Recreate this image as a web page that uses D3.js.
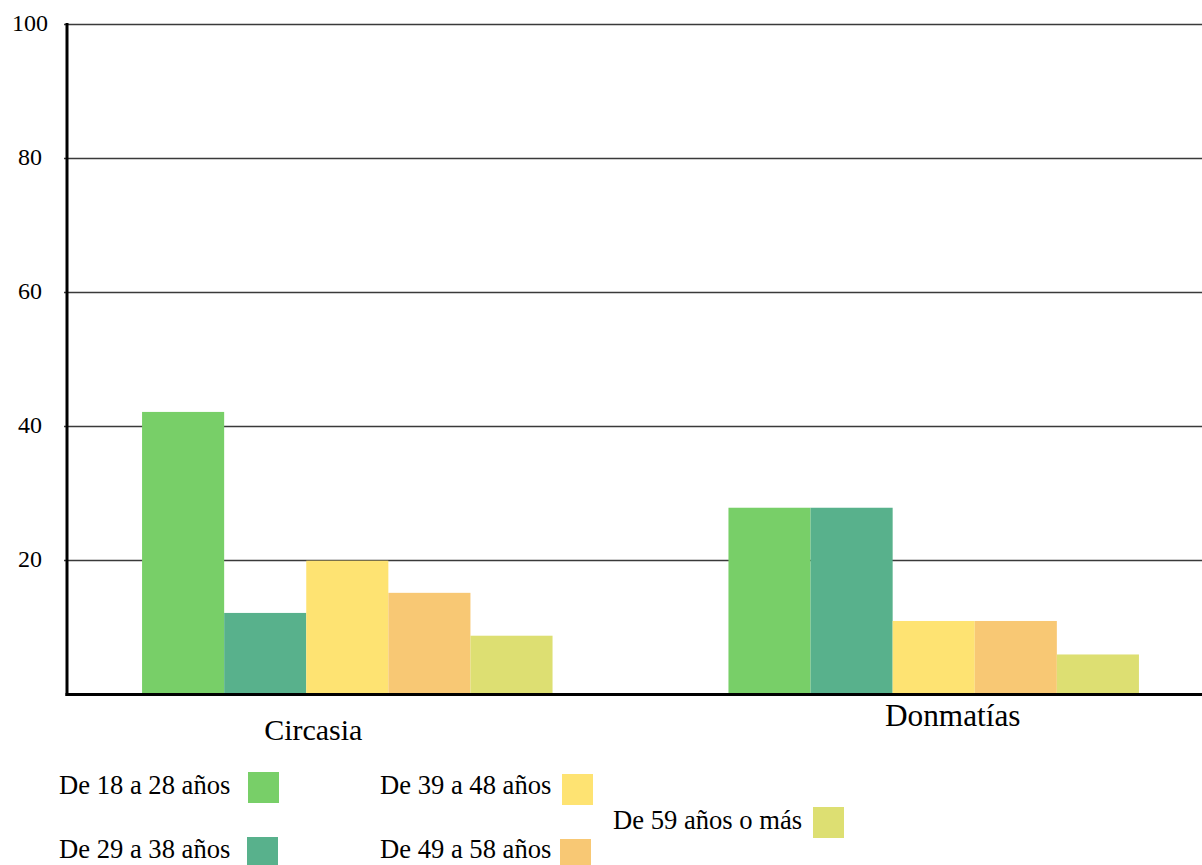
<!DOCTYPE html>
<html>
<head>
<meta charset="utf-8">
<script src="https://cdn.jsdelivr.net/npm/d3@7"></script>
<style>
  html, body { margin: 0; padding: 0; background: #fff; }
  svg { display: block; }
  text { font-family: "Liberation Serif", "DejaVu Serif", serif; fill: #000; }
</style>
</head>
<body>
<svg id="chart" width="1202" height="865"></svg>
<script>
// Municipalities and age groups
const municipios = ["Circasia", "Donmatías"];
const grupos = ["De 18 a 28 años", "De 29 a 38 años", "De 39 a 48 años", "De 49 a 58 años", "De 59 años o más"];
const colores = ["#78cf68", "#58b18c", "#fee372", "#f8c874", "#dddf72"];

// Percentage per age group, one array per municipality
const valoresCircasia = [42.1, 12.1, 19.9, 15.1, 8.7];
const valoresDonmatias = [27.8, 27.8, 10.9, 10.9, 5.9];
const valores = [valoresCircasia, valoresDonmatias];

const yTicks = [20, 40, 60, 80, 100];

const svg = d3.select("#chart");
const W = 1202, H = 865;
const plotLeft = 67, plotTop = 24, plotBottom = 694;

const y = d3.scaleLinear().domain([0, 100]).range([plotBottom, plotTop]);
const x0 = d3.scaleBand().domain(municipios).range([plotLeft, 1214])
  .paddingInner(0.3).paddingOuter(0.128);
const x1 = d3.scaleBand().domain(grupos).range([0, x0.bandwidth()]).padding(0);
const color = d3.scaleOrdinal().domain(grupos).range(colores);

// Horizontal gridlines with short ticks left of the axis
const yAxis = d3.axisLeft(y).tickValues(yTicks)
  .tickSizeOuter(0).tickFormat(d3.format("d"));
const gy = svg.append("g").attr("transform", `translate(${plotLeft},0)`).call(yAxis);
gy.attr("font-family", null).attr("font-size", null);
gy.select(".domain").remove();
gy.selectAll(".tick line")
  .attr("x1", -3).attr("x2", W - plotLeft)
  .attr("stroke", "#3a3a3a").attr("stroke-width", 1.3);
gy.selectAll(".tick text")
  .attr("x", 30 - plotLeft).attr("dy", null).attr("y", 6)
  .attr("text-anchor", "middle")
  .style("font-size", "24px");

// Bars
const groups = svg.append("g").selectAll("g")
  .data(municipios.map((m, i) => ({ m, vals: valores[i] })))
  .join("g")
  .attr("transform", d => `translate(${x0(d.m)},0)`);

groups.selectAll("rect")
  .data(d => d.vals.map((v, j) => ({ g: grupos[j], v })))
  .join("rect")
  .attr("x", d => x1(d.g))
  .attr("y", d => y(d.v))
  .attr("width", x1.bandwidth())
  .attr("height", d => y(0) - y(d.v))
  .attr("fill", d => color(d.g));

// Axis lines
svg.append("line")
  .attr("x1", plotLeft).attr("x2", plotLeft).attr("y1", plotTop - 1).attr("y2", plotBottom + 2)
  .attr("stroke", "#000").attr("stroke-width", 3);
svg.append("line")
  .attr("x1", plotLeft - 1.5).attr("x2", W).attr("y1", plotBottom + 0.5).attr("y2", plotBottom + 0.5)
  .attr("stroke", "#000").attr("stroke-width", 3);

// Category labels
const catPos = [{ dx: -34, y: 740, size: 30 }, { dx: 19, y: 726, size: 31.3 }];
svg.append("g").selectAll("text")
  .data(municipios)
  .join("text")
  .attr("x", (d, i) => x0(d) + x0.bandwidth() / 2 + catPos[i].dx)
  .attr("y", (d, i) => catPos[i].y)
  .attr("text-anchor", "middle")
  .style("font-size", (d, i) => catPos[i].size + "px")
  .text(d => d);

// Legend: label followed by swatch
const legendLayout = [
  { tx: 59, ty: 794, sx: 248, sy: 772 },
  { tx: 59, ty: 858, sx: 247, sy: 837 },
  { tx: 380, ty: 794, sx: 562, sy: 774 },
  { tx: 380, ty: 858, sx: 560, sy: 839 },
  { tx: 613, ty: 829, sx: 813, sy: 807 }
];
const legend = svg.append("g").selectAll("g")
  .data(grupos)
  .join("g");
legend.append("text")
  .attr("x", (d, i) => legendLayout[i].tx)
  .attr("y", (d, i) => legendLayout[i].ty)
  .style("font-size", "26.6px")
  .text(d => d);
legend.append("rect")
  .attr("x", (d, i) => legendLayout[i].sx)
  .attr("y", (d, i) => legendLayout[i].sy)
  .attr("width", 31).attr("height", 31)
  .attr("fill", d => color(d));
</script>
</body>
</html>
